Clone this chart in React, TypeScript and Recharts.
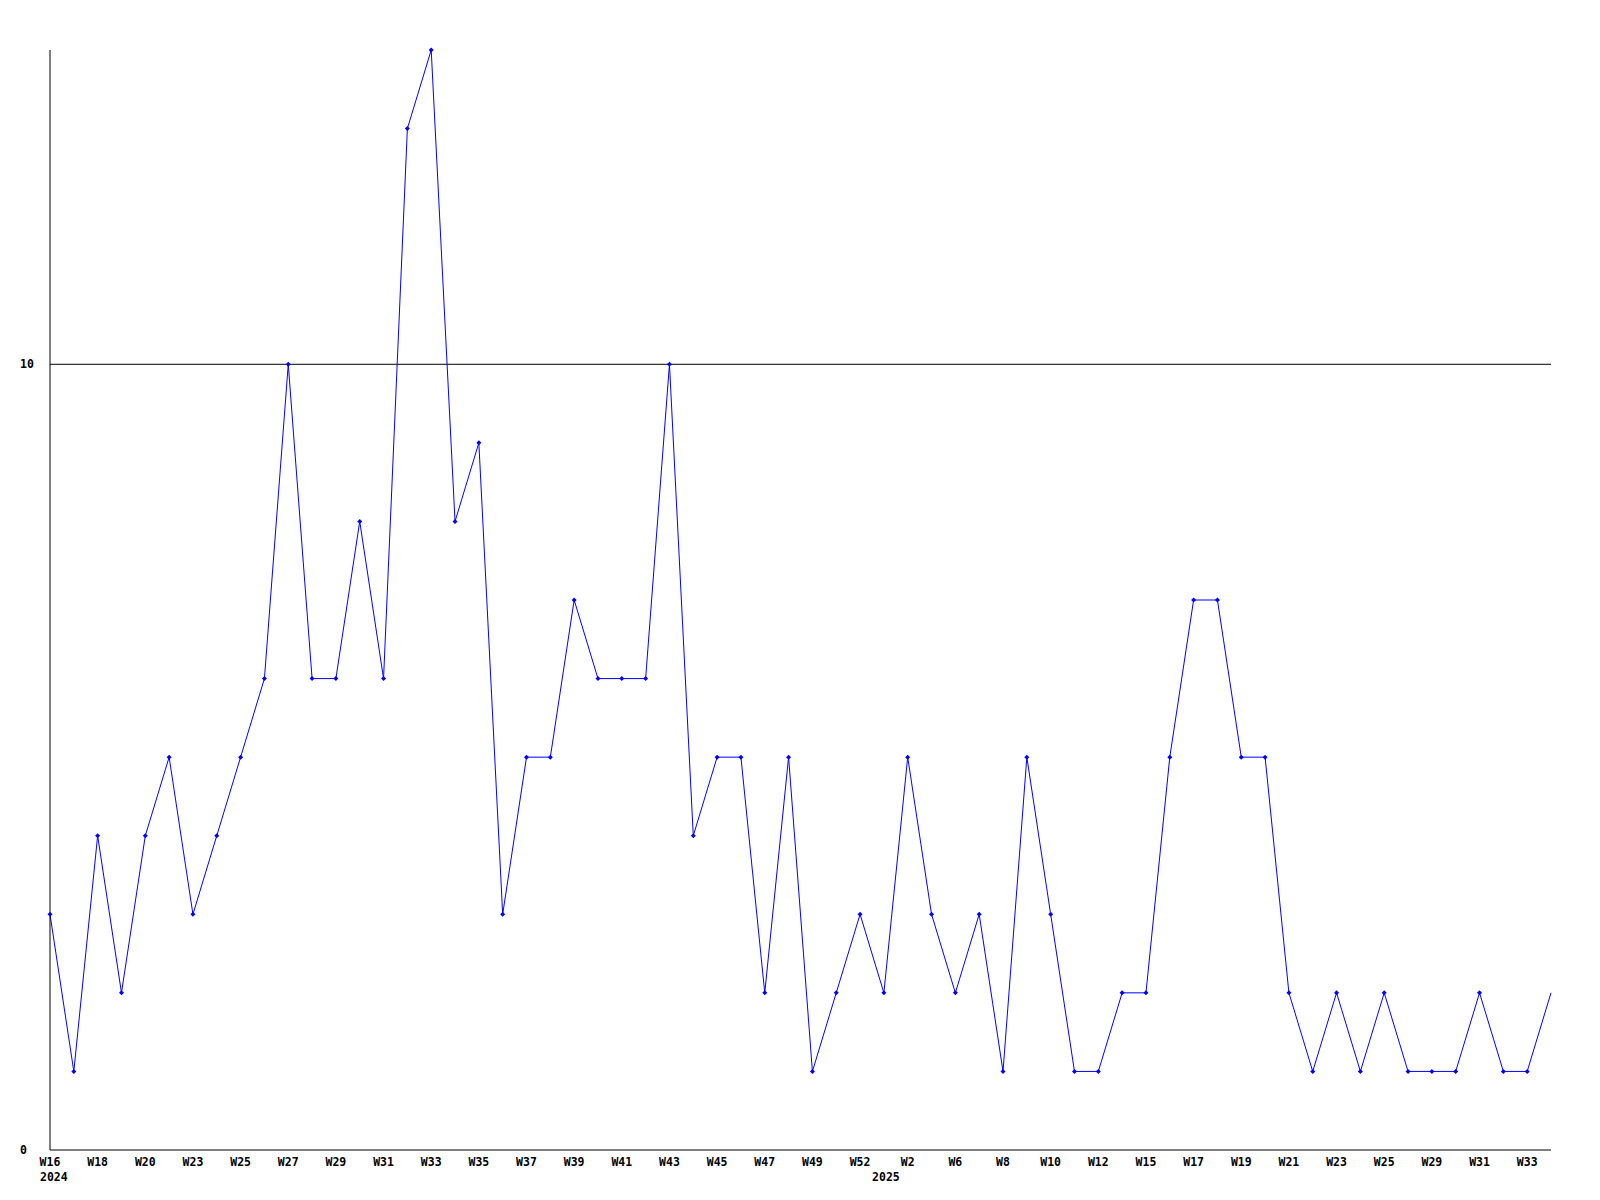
import React from 'react';
import { LineChart, Line, XAxis, YAxis, ReferenceLine } from 'recharts';

const weeks: string[] = [
  'W16', 'W17', 'W18', 'W19', 'W20', 'W22', 'W23', 'W24', 'W25', 'W26',
  'W27', 'W28', 'W29', 'W30', 'W31', 'W32', 'W33', 'W34', 'W35', 'W36',
  'W37', 'W38', 'W39', 'W40', 'W41', 'W42', 'W43', 'W44', 'W45', 'W46',
  'W47', 'W48', 'W49', 'W51', 'W52', 'W1', 'W2', 'W5', 'W6', 'W7',
  'W8', 'W9', 'W10', 'W11', 'W12', 'W14', 'W15', 'W16', 'W17', 'W18',
  'W19', 'W20', 'W21', 'W22', 'W23', 'W24', 'W25', 'W28', 'W29', 'W30',
  'W31', 'W32', 'W33', 'W34',
];

const years: string[] = [
  '2024', '', '', '', '', '', '', '', '', '',
  '', '', '', '', '', '', '', '', '', '',
  '', '', '', '', '', '', '', '', '', '',
  '', '', '', '', '', '2025', '', '', '', '',
  '', '', '', '', '', '', '', '', '', '',
  '', '', '', '', '', '', '', '', '', '',
  '', '', '', '',
];

const counts: number[] = [
  3, 1, 4, 2, 4, 5, 3, 4, 5, 6,
  10, 6, 6, 8, 6, 13, 14, 8, 9, 3,
  5, 5, 7, 6, 6, 6, 10, 4, 5, 5,
  2, 5, 1, 2, 3, 2, 5, 3, 2, 3,
  1, 5, 3, 1, 1, 2, 2, 5, 7, 7,
  5, 5, 2, 1, 2, 1, 2, 1, 1, 1,
  2, 1, 1, 2,
];

const yTicks: number[] = [0, 10];

const data = weeks.map((w, i) => ({ key: i, week: w, year: years[i], value: counts[i] }));

const FONT = '"DejaVu Sans Mono", monospace';
const FS = 11.5;

const XTick = (props: any) => {
  const { x, y, index } = props;
  const d = data[index];
  if (!d) return null;
  const showWeek = index % 2 === 0;
  return (
    <g>
      {showWeek && (
        <text x={x} y={y + 16} textAnchor="middle" fontFamily={FONT} fontWeight="bold" fontSize={FS} fill="#000">
          {d.week}
        </text>
      )}
      {d.year && (
        <text
          x={index === 0 ? x - 10 : x + 2}
          y={y + 31}
          textAnchor={index === 0 ? 'start' : 'middle'}
          fontFamily={FONT}
          fontWeight="bold"
          fontSize={FS}
          fill="#000"
        >
          {d.year}
        </text>
      )}
    </g>
  );
};

const YTick = (props: any) => {
  const { y, payload } = props;
  return (
    <text x={20} y={y + 4} textAnchor="start" fontFamily={FONT} fontWeight="bold" fontSize={FS} fill="#000">
      {payload.value}
    </text>
  );
};

const Dot = (props: any) => {
  const { cx, cy, index } = props;
  if (cx == null || cy == null || index === data.length - 1) return null;
  return <path d={`M${cx},${cy - 2.5}L${cx + 2.5},${cy}L${cx},${cy + 2.5}L${cx - 2.5},${cy}Z`} fill="#0000ff" stroke="none" />;
};

export default function App() {
  return (
    <div style={{ position: 'absolute', left: 0, top: 0, width: 1600, height: 1200, background: '#fff' }}>
      <LineChart width={1600} height={1200} data={data} margin={{ top: 50, right: 49, bottom: 0, left: 0 }}>
        <XAxis
          dataKey="key"
          type="category"
          interval={0}
          tickLine={false}
          tickSize={0}
          tickMargin={0}
          height={50}
          axisLine={{ stroke: '#000', strokeWidth: 1 }}
          tick={<XTick />}
        />
        <YAxis
          type="number"
          domain={[0, 14]}
          ticks={yTicks}
          width={50}
          tickLine={false}
          axisLine={{ stroke: '#000', strokeWidth: 1 }}
          tick={<YTick />}
        />
        <ReferenceLine y={10} stroke="#000" strokeWidth={1} />
        <Line
          type="linear"
          dataKey="value"
          stroke="#0000ff"
          strokeWidth={1}
          dot={<Dot />}
          activeDot={false}
          isAnimationActive={false}
        />
      </LineChart>
    </div>
  );
}
